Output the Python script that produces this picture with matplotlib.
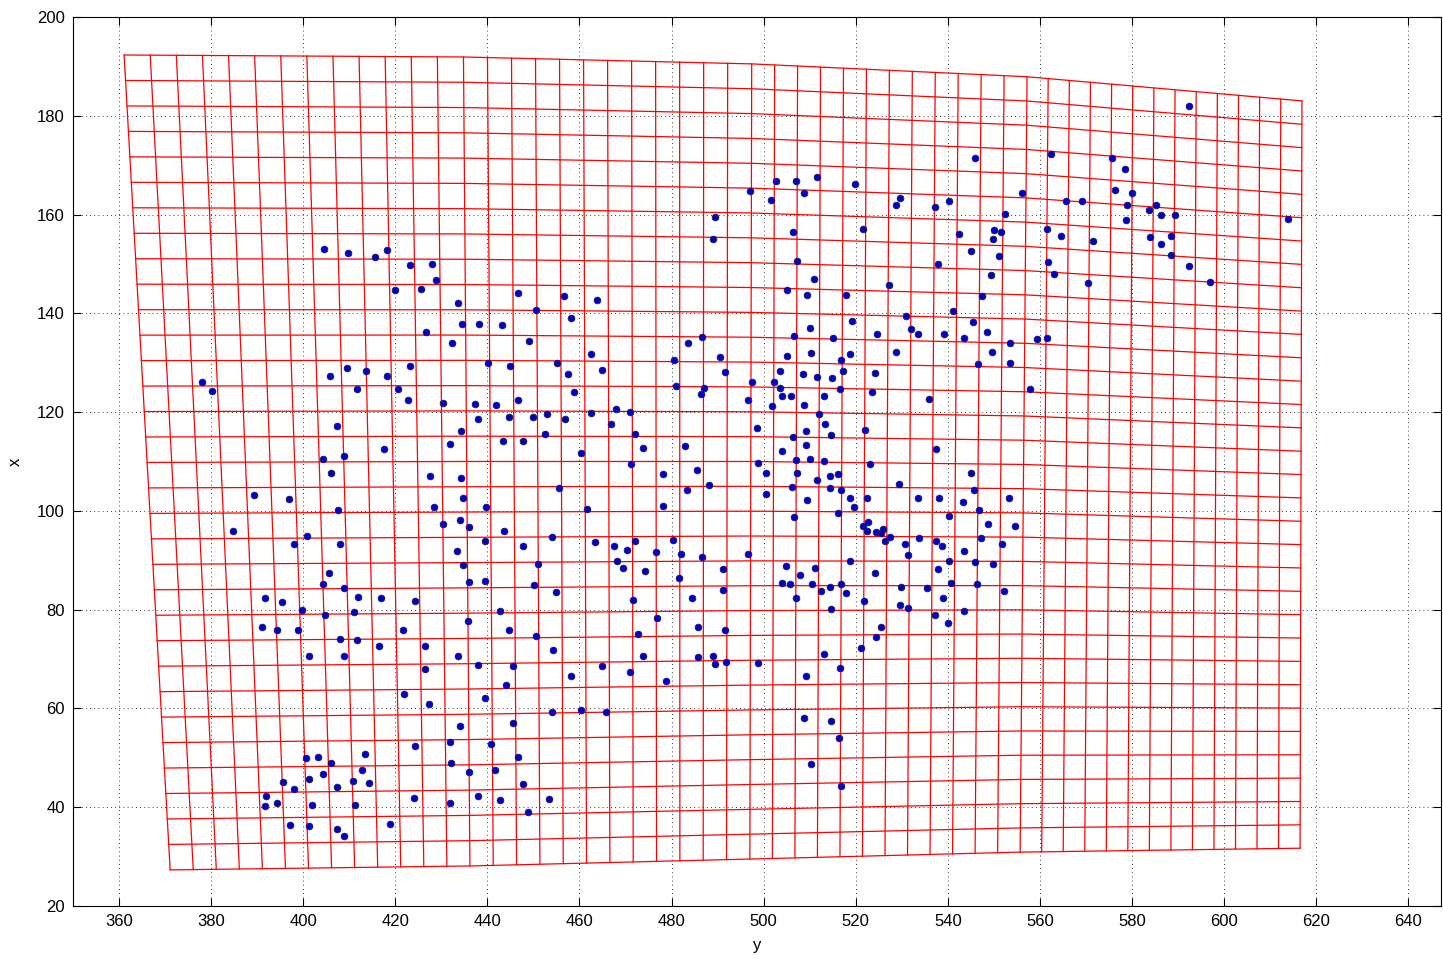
import numpy as np
import matplotlib.pyplot as plt

plt.rcParams['font.family'] = ['Liberation Sans', 'DejaVu Sans']

# blue points: horizontal axis is "y", vertical axis is "x"
dot_y = [404.6, 409.7, 415.5, 418.2, 423.1, 427.9, 428.8, 420.0, 425.5, 433.6, 434.5, 426.7, 432.4,
         497.0, 489.4, 489.1, 446.7, 456.7, 463.7, 450.6, 458.2, 438.2, 443.1, 449.1, 486.6, 483.6,
         545.9, 502.7, 507.0, 511.5, 519.9, 508.8, 501.5, 556.0, 529.7, 528.8, 537.2, 540.2, 552.4,
         506.3, 521.5, 542.4, 550.1, 551.5, 549.9, 545.1, 551.1, 507.3, 537.8, 549.3, 510.9, 527.2,
         505.1, 509.4, 517.8, 547.5, 541.2, 530.9, 519.1, 510.0, 545.4, 506.6, 515.1, 524.6, 532.0,
         533.6, 539.1, 543.6, 548.5, 553.6,
         592.3, 562.3, 575.7, 578.4, 576.3, 580.0, 565.7, 569.1, 579.0, 583.6, 585.1, 586.3, 589.3,
         613.8, 578.7, 561.5, 564.5, 571.5, 583.9, 588.4, 586.3, 588.4, 592.3, 596.9, 561.8, 563.0,
         570.5, 559.3, 561.5,
         378.0, 380.1, 405.8, 409.5, 413.7, 418.3, 423.1, 411.6, 420.6, 422.8, 430.3, 437.2, 407.4,
         434.3, 431.9, 417.6, 404.3, 408.9, 406.1, 427.6, 434.3, 434.6, 428.5, 434.0, 436.1, 430.3,
         389.2, 396.8, 407.6, 384.7, 400.8, 398.0, 407.9, 433.4, 434.6, 436.1, 405.5, 404.3, 408.9,
         462.4, 440.1, 444.9, 455.2, 464.8, 457.6, 480.6, 490.6, 491.5, 458.8, 480.9, 487.0, 486.3,
         497.4, 496.6, 441.9, 446.7, 438.0, 444.6, 450.0, 453.0, 456.9, 462.4, 467.9, 470.9, 466.9,
         452.5, 472.1, 443.4, 447.7, 473.7, 483.0, 460.3, 471.2, 485.5, 478.2, 483.3, 488.1, 455.5,
         439.8, 461.6, 478.2, 443.7, 439.4, 447.7, 454.0, 463.3, 467.6, 470.3, 472.1, 480.3, 476.7,
         482.1, 486.7, 496.7, 468.2, 469.4, 474.2, 450.9, 481.6, 491.1, 439.4, 450.1, 454.8, 491.1,
         505.1, 510.3, 516.7, 518.8, 528.8, 549.6, 546.6, 553.5, 503.6, 508.5, 511.5, 514.9, 517.3,
         524.2, 502.3, 503.6, 503.9, 506.0, 513.0, 516.6, 523.6, 535.9, 557.8, 501.8, 508.8, 512.1,
         513.3, 498.5, 509.1, 506.3, 514.6, 522.1, 509.1, 503.9, 537.5, 507.0, 510.0, 513.0, 498.8,
         523.0, 500.6, 507.3, 514.5, 516.1, 511.5, 545.1, 506.1, 514.3, 516.7, 529.3, 545.7, 500.6,
         509.4, 518.8, 522.4, 533.5, 538.1, 543.3, 553.3, 519.7, 546.7, 516.1, 506.6, 540.2, 521.5,
         522.7, 522.4, 524.5, 525.4, 526.0, 526.4, 527.5, 548.8, 554.5, 530.6, 533.8, 537.5, 538.8,
         547.2, 551.7, 543.6, 531.4, 518.8, 540.2, 546.0, 549.7, 504.8, 511.2, 507.8, 524.2, 537.8,
         503.9, 505.7, 510.6, 514.3, 516.7, 512.4, 517.8, 529.9, 535.4, 540.6, 546.3, 552.1,
         391.6, 395.3, 399.8, 404.7, 411.9, 411.0, 416.8, 424.3, 435.7, 391.0, 394.3, 398.9, 407.9,
         411.6, 416.4, 421.7, 426.5, 401.3, 408.9, 433.7, 426.4, 421.9, 427.4, 434.0, 431.9, 424.2,
         432.2, 435.9, 400.7, 403.1, 406.1, 413.4, 412.8, 404.3, 401.3, 395.6, 398.0, 410.7, 414.3,
         407.4, 391.9, 391.6, 394.4, 401.8, 411.3, 424.0, 431.9, 397.1, 401.3, 407.4, 408.9, 418.9,
         471.6, 484.5, 442.7, 476.9, 444.6, 450.6, 472.7, 485.8, 491.5, 454.3, 473.7, 485.8, 489.0,
         489.4, 491.8, 438.0, 445.5, 464.8, 458.2, 470.9, 478.8, 444.0, 439.4, 454.0, 460.3, 465.8,
         445.5, 440.7, 446.7, 441.6, 447.7, 438.0, 442.8, 453.4, 448.8,
         507.0, 521.8, 514.6, 529.6, 531.4, 539.0, 537.2, 543.6, 540.0, 525.4, 524.5, 521.2, 513.0,
         498.8, 516.6, 509.1, 508.8, 514.6, 516.4, 510.3, 516.7]
dot_x = [153.1, 152.3, 151.4, 152.8, 149.7, 150.0, 146.7, 144.7, 144.9, 142.1, 137.9, 136.2, 134.0,
         164.7, 159.6, 155.1, 144.1, 143.5, 142.7, 140.7, 139.1, 137.9, 137.6, 134.3, 135.3, 133.9,
         171.5, 166.7, 166.7, 167.5, 166.1, 164.4, 163.0, 164.4, 163.3, 161.9, 161.6, 162.7, 160.2,
         156.5, 157.1, 156.0, 156.8, 156.5, 155.1, 152.6, 151.7, 150.6, 150.0, 147.8, 147.0, 145.8,
         144.7, 143.8, 143.8, 143.5, 140.4, 139.5, 138.4, 137.0, 138.2, 135.4, 135.0, 135.9, 136.8,
         135.9, 135.9, 135.1, 136.2, 133.9,
         181.9, 172.3, 171.5, 169.2, 165.0, 164.4, 162.7, 162.7, 161.9, 161.0, 161.9, 159.9, 159.9,
         159.0, 158.8, 157.1, 155.7, 154.6, 155.4, 155.7, 154.0, 151.9, 149.5, 146.3, 150.3, 148.0,
         146.1, 134.8, 135.1,
         126.0, 124.3, 127.4, 128.9, 128.3, 127.4, 129.4, 124.6, 124.6, 122.4, 121.8, 121.6, 117.1,
         116.2, 113.6, 112.5, 110.5, 111.1, 107.7, 107.1, 106.6, 102.6, 100.7, 98.2, 96.7, 97.3,
         103.2, 102.3, 100.1, 95.9, 95.0, 93.3, 93.3, 91.9, 89.0, 85.5, 87.4, 85.1, 84.3,
         131.7, 130.0, 129.4, 130.0, 128.6, 127.7, 130.6, 131.1, 128.1, 124.1, 125.2, 124.9, 123.7,
         126.0, 122.4, 121.5, 122.4, 118.7, 119.0, 119.0, 119.6, 118.7, 119.8, 120.7, 120.1, 117.6,
         115.6, 115.6, 114.2, 114.2, 112.8, 113.1, 111.7, 109.4, 108.2, 107.5, 104.3, 105.2, 104.6,
         100.7, 100.4, 100.9, 95.9, 93.8, 92.8, 94.7, 93.6, 92.8, 92.1, 93.8, 94.2, 91.6,
         91.3, 90.7, 91.3, 89.9, 88.5, 87.9, 89.3, 86.5, 88.2, 85.7, 84.9, 83.5, 84.0,
         131.4, 132.0, 130.6, 131.7, 132.2, 132.2, 129.7, 130.0, 128.3, 127.7, 127.2, 126.9, 128.3,
         128.0, 126.0, 124.9, 123.2, 123.2, 123.2, 124.6, 124.1, 122.7, 124.6, 121.2, 121.5, 119.6,
         117.5, 116.7, 116.2, 115.0, 115.3, 116.4, 113.3, 112.2, 112.5, 110.2, 110.5, 110.0, 109.7,
         109.4, 107.7, 107.7, 107.1, 107.4, 106.3, 107.7, 104.9, 104.6, 104.3, 105.4, 104.3, 103.5,
         102.1, 102.6, 102.6, 102.6, 102.6, 101.8, 102.6, 100.7, 100.1, 99.5, 98.7, 99.0, 97.0,
         97.7, 95.9, 95.8, 95.6, 96.3, 93.8, 94.7, 97.3, 97.0, 93.3, 94.5, 93.9, 92.8,
         94.5, 93.3, 91.9, 91.1, 89.9, 89.9, 89.7, 89.3, 88.8, 88.5, 87.1, 87.4, 88.2,
         85.4, 85.1, 85.1, 84.6, 85.1, 83.7, 83.3, 84.6, 84.3, 85.4, 85.1, 83.7,
         82.3, 81.5, 80.0, 79.0, 82.5, 79.5, 82.3, 81.8, 77.6, 76.4, 75.8, 75.8, 74.1,
         73.9, 72.6, 75.8, 72.6, 70.7, 70.7, 70.7, 67.9, 62.9, 60.8, 56.4, 53.3, 52.4,
         49.0, 47.1, 49.9, 50.2, 49.0, 50.7, 47.6, 46.7, 45.7, 45.0, 43.6, 45.4, 44.8,
         44.0, 42.2, 40.3, 40.9, 40.5, 40.5, 41.9, 40.8, 36.3, 36.1, 35.5, 34.1, 36.6,
         82.0, 82.3, 79.8, 78.4, 75.8, 74.6, 75.0, 76.4, 75.8, 71.8, 70.7, 70.4, 70.7,
         69.0, 69.3, 68.7, 68.5, 68.5, 66.5, 67.3, 65.6, 64.8, 62.2, 59.2, 59.7, 59.2,
         57.1, 52.7, 50.1, 47.6, 44.7, 42.2, 41.4, 41.7, 39.1,
         82.3, 81.8, 80.1, 80.9, 80.3, 82.3, 78.9, 79.8, 77.2, 76.4, 74.4, 72.2, 71.0,
         69.1, 68.2, 66.5, 58.0, 57.5, 54.0, 48.7, 44.2]

# red mesh: 50 x 32 cells, outline read at a few column indices
n_col = 50
n_row = 32
edge_col = [0, 13, 25, 37, 50]
top_y = [361.1, 434.8, 497.4, 557.2, 616.9]
top_x = [192.3, 191.9, 190.5, 187.9, 183.0]
bot_y = [371.1, 436.2, 497.0, 555.7, 616.5]
bot_x = [27.3, 28.1, 29.5, 30.9, 31.7]

cols = np.arange(n_col + 1)
ty = np.interp(cols, edge_col, top_y)
tx = np.interp(cols, edge_col, top_x)
by = np.interp(cols, edge_col, bot_y)
bx = np.interp(cols, edge_col, bot_x)
v = np.linspace(0, 1, n_row + 1)[:, None]
mesh_y = by + (ty - by) * v
mesh_x = bx + (tx - bx) * v

fig = plt.figure(figsize=(14.43, 9.59), dpi=100)
ax = fig.add_axes([0.0506, 0.0553, 0.948, 0.927])

for i in range(n_col + 1):
    ax.plot(mesh_y[:, i], mesh_x[:, i], color='red', lw=0.9)
for j in range(n_row + 1):
    ax.plot(mesh_y[j], mesh_x[j], color='red', lw=0.9)

ax.plot(dot_y, dot_x, 'o', ms=4.8, mfc='#0000cc', mec='#1a1a55', mew=0.6, ls='none')

ax.set_xlim(350, 647.1)
ax.set_ylim(20, 200)
ax.set_xticks(np.arange(360, 641, 20))
ax.set_yticks(np.arange(20, 201, 20))
ax.tick_params(direction='in', top=True, right=True, length=6, labelsize=12, pad=6)
ax.grid(True, color='k', linestyle=(0, (1, 4)), lw=0.6)
ax.set_axisbelow(True)
ax.set_xlabel('y', fontsize=12, labelpad=6)
ax.set_ylabel('x', fontsize=12, labelpad=10)

fig.savefig('out.png', dpi=100)
